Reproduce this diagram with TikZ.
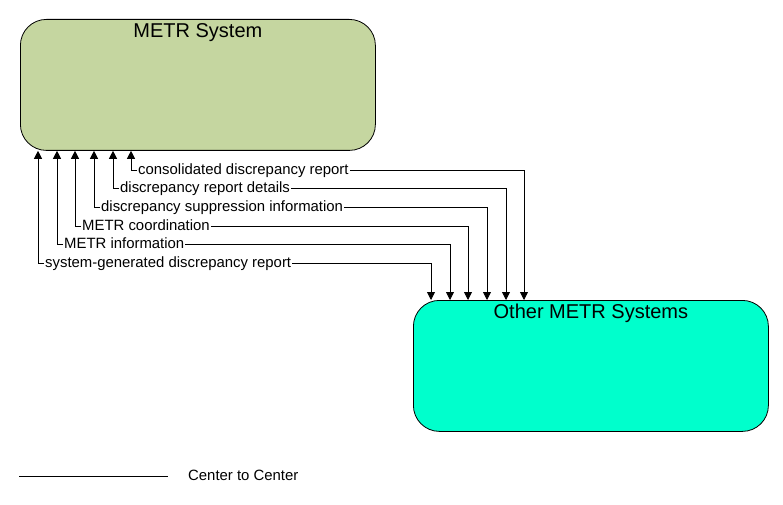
\documentclass[tikz,border=0pt]{standalone}
\usepackage{fontspec}
\setmainfont{Liberation Sans}
\usetikzlibrary{arrows.meta,calc}
\definecolor{metrgreen}{RGB}{197,214,160}
\definecolor{metrcyan}{RGB}{0,255,204}
\begin{document}
\begin{tikzpicture}[x=1pt,y=-1pt,
  box/.style={draw=black, rounded corners=26pt, line width=0.8pt, minimum width=355pt, minimum height=131pt, anchor=north west, inner sep=0pt},
  lab/.style={font=\fontsize{14.9}{17}\selectfont, inner sep=1pt, text height=10.5pt, text depth=1.5pt, anchor=west, text=black},
  flow/.style={line width=0.8pt, -{Triangle[length=8pt,width=8pt]}},
  ttl/.style={font=\fontsize{20}{24}\selectfont, anchor=north, inner sep=0pt}]
\useasboundingbox (0,0) rectangle (783,505);
\node[box, fill=metrgreen] (sys) at (20,19) {};
\node[box, fill=metrcyan] (oth) at (413,300) {};
\node[ttl] (systtl) at ($(sys.north)+(0,4)$) {METR System};
\node[ttl] (othtl) at ($(oth.north)+(0,4)$) {Other METR Systems};
\node[lab] (l1) at (137,170) {consolidated discrepancy report};
\node[lab] (l2) at (119,188) {discrepancy report details};
\node[lab] (l3) at (100,207) {discrepancy suppression information};
\node[lab] (l4) at (81,226) {METR coordination};
\node[lab] (l5) at (63,244) {METR information};
\node[lab] (l6) at (44,263) {system-generated discrepancy report};
\foreach \n/\d in {l1/111, l2/93, l3/74, l4/55, l5/37, l6/18} {
  \draw[flow] (\n.west) -| ($(sys.south west)+(\d,0)$);
  \draw[flow] (\n.east) -| ($(oth.north west)+(\d,0)$);
}
\coordinate (lg1) at (19,476);
\coordinate (lg2) at (168,476);
\draw[line width=0.8pt] (lg1) -- (lg2);
\node[lab] (lgt) at (187,476) {Center to Center};
\end{tikzpicture}
\end{document}
